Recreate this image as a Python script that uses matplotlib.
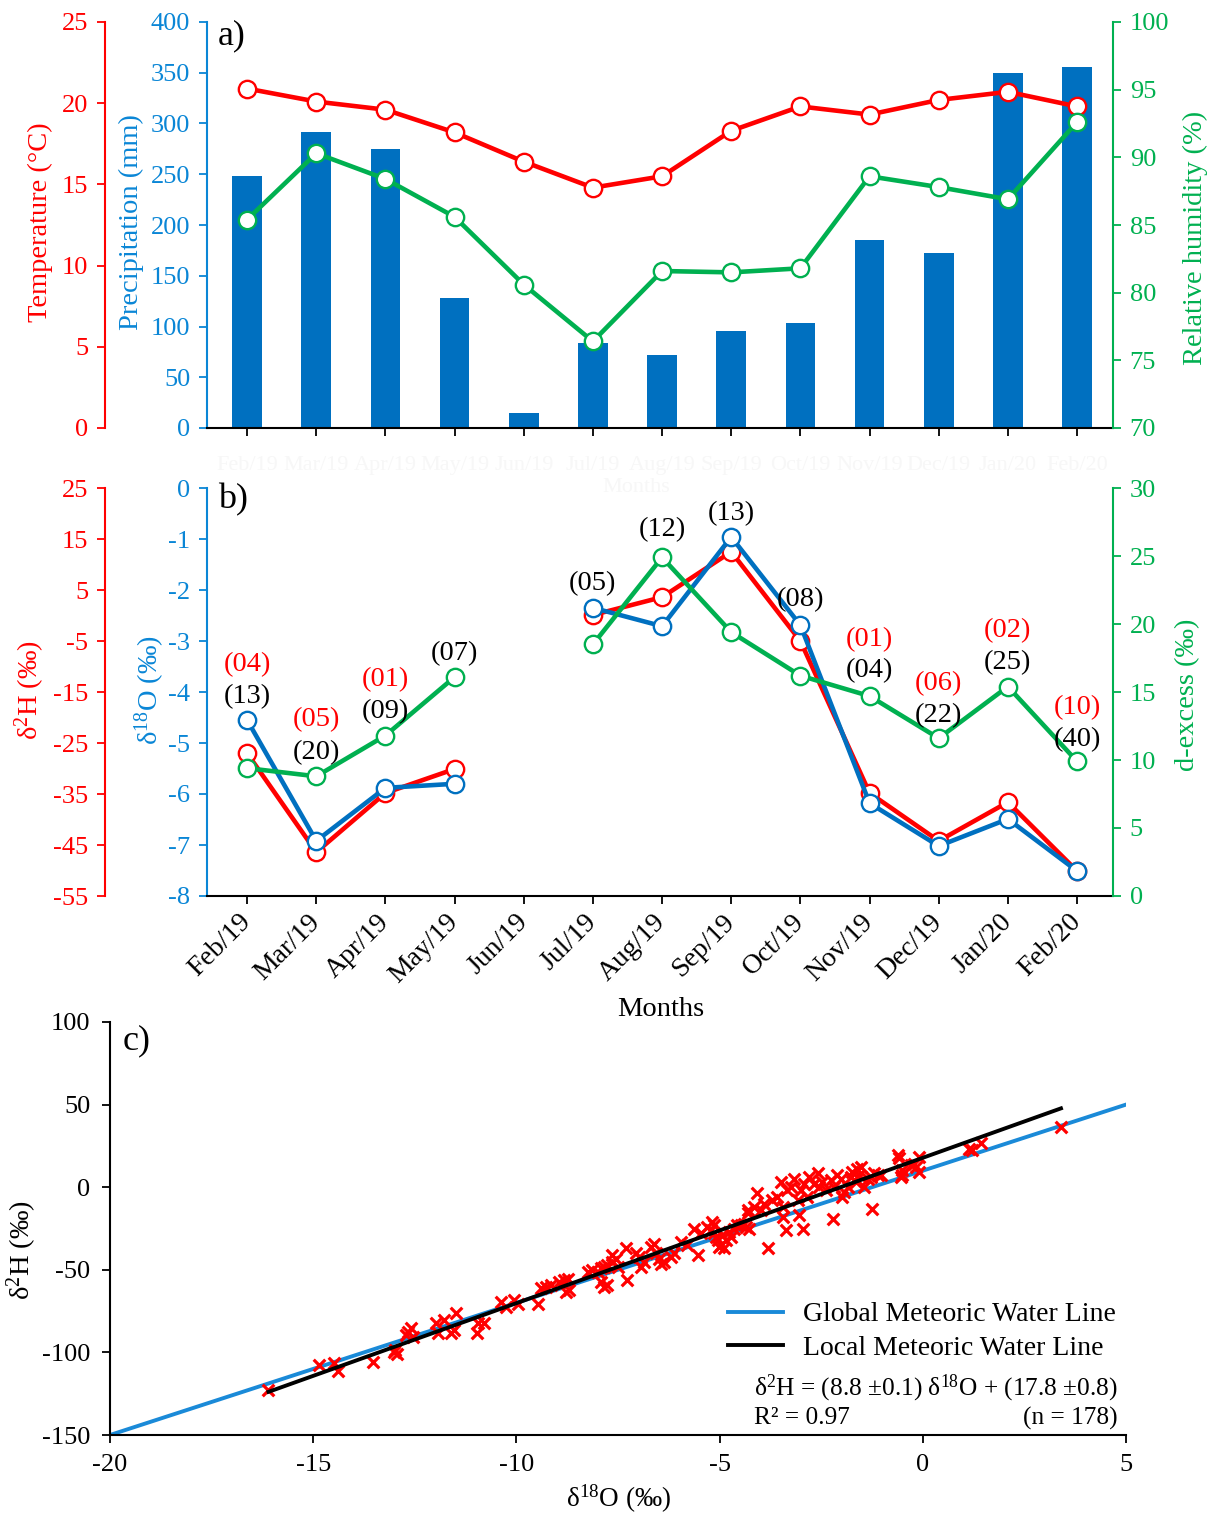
import matplotlib
matplotlib.use('Agg')
import matplotlib.pyplot as plt
import numpy as np

plt.rcParams['font.family'] = ['Liberation Serif', 'DejaVu Serif']
plt.rcParams['mathtext.fontset'] = 'custom'
plt.rcParams['mathtext.rm'] = 'Liberation Serif'
plt.rcParams['mathtext.it'] = 'Liberation Serif:italic'
plt.rcParams['axes.unicode_minus'] = False

# ---------------- data ----------------
months = ['Feb/19', 'Mar/19', 'Apr/19', 'May/19', 'Jun/19', 'Jul/19', 'Aug/19',
          'Sep/19', 'Oct/19', 'Nov/19', 'Dec/19', 'Jan/20', 'Feb/20']
temperature = [20.9, 20.1, 19.6, 18.2, 16.4, 14.8, 15.5, 18.3, 19.8, 19.3, 20.2, 20.7, 19.8]
precipitation = [248, 292, 275, 128, 15, 84, 72, 96, 103, 185, 172, 350, 356]
humidity = [85.4, 90.3, 88.4, 85.6, 80.6, 76.4, 81.6, 81.5, 81.8, 88.6, 87.8, 86.9, 92.6]

nan = np.nan
d18O = [-4.55, -6.92, -5.88, -5.80, nan, -2.35, -2.71, -0.96, -2.69, -6.18, -7.02, -6.49, -7.51]
d2H = [-27.0, -46.4, -34.8, -30.1, nan, 0.1, 3.6, 12.5, -5.0, -34.8, -44.2, -36.6, -50.1]
dexcess = [9.4, 8.8, 11.8, 16.1, nan, 18.5, 24.9, 19.4, 16.2, 14.7, 11.6, 15.4, 9.9]
n_labels_black = ['(13)', '(20)', '(09)', '(07)', '', '(05)', '(12)', '(13)', '(08)', '(04)', '(22)', '(25)', '(40)']
n_labels_red = ['(04)', '(05)', '(01)', '', '', '', '', '', '', '(01)', '(06)', '(02)', '(10)']

scatter_o18 = [
    -16.12, -14.86, -14.49, -14.39, -13.53, -13.02, -12.94, -12.99, -12.67, -12.60, -12.72, -12.55,
    -11.98, -11.79, -11.49, -11.93, -11.61, -11.54, -10.95, -10.80, -10.97,
    -10.38, -10.26, -10.06, -9.97, -9.48, -9.40, -9.28, -9.15, -8.95, -8.83, -8.74, -8.70, -8.78,
    -8.25, -8.13, -8.00, -7.92, -7.84, -7.76, -7.64, -7.55, -7.51, -7.92, -7.84, -7.76, -7.64,
    -7.31, -7.27, -7.06, -6.98, -6.94, -6.86, -6.69, -6.61, -6.57, -6.49, -6.45, -6.37, -6.20,
    -6.12, -5.95, -5.79, -5.63, -5.54, -5.46, -5.22, -5.14, -5.09, -5.01, -4.89, -4.85, -4.77,
    -4.64, -4.56, -4.40, -4.31, -4.27,
    -5.30, -5.18, -5.14, -5.05, -4.97, -4.93, -4.72, -4.48, -4.36, -4.31, -4.15, -4.07, -3.99,
    -3.90, -3.82, -3.70, -3.58, -3.49, -3.45, -3.45, -3.37, -3.33, -3.25, -3.17, -3.08, -3.04,
    -3.00, -2.96, -2.92, -2.84, -2.80, -2.67, -2.59, -2.55, -2.47, -2.39, -2.26, -2.22, -2.18,
    -2.10, -2.02, -1.98, -1.94, -1.85, -1.77, -1.73, -1.65, -1.61, -1.57, -1.53, -1.44, -1.36,
    -1.28, -1.24, -1.20, -1.11, -1.03, -0.62, -0.58, -0.54, -0.50, -0.21, -0.09, -0.09,
    -0.50, -0.30, -0.17, 1.14, 1.22, 1.43, 3.40,
]
scatter_h2 = [
    -122.9, -107.7, -106.5, -111.4, -105.9, -99.9, -101.1, -98.7, -87.8, -85.4, -89.6, -90.8,
    -82.3, -80.5, -76.3, -88.4, -88.4, -86.6, -82.3, -82.3, -88.4,
    -69.4, -72.4, -68.4, -70.4, -70.4, -61.3, -60.3, -59.3, -57.3, -56.3, -55.3, -62.3, -63.4,
    -51.3, -50.2, -51.3, -49.2, -48.2, -47.2, -45.2, -43.2, -48.2, -57.3, -60.3, -59.3, -41.2,
    -37.1, -56.3, -40.1, -42.2, -48.2, -45.2, -36.1, -34.1, -40.1, -43.2, -46.2, -45.2, -42.2,
    -40.1, -33.1, -35.1, -25.0, -41.2, -28.0, -26.0, -23.0, -30.1, -36.1, -37.1, -32.1, -27.0,
    -25.0, -23.0, -22.0, -15.9, -25.0,
    -24.0, -21.0, -28.0, -32.1, -35.1, -29.1, -30.1, -23.0, -24.0, -13.9, -11.9, -3.8, -13.9,
    -9.9, -37.1, -7.9, -5.9, 3.2, -11.9, -18.0, -26.0, -1.8, 0.2, 5.2, -7.9, -16.9,
    -1.8, -25.0, 2.2, -5.9, 6.2, 2.2, 8.3, 0.2, 3.2, -1.8, 4.2, -19.0, 0.2,
    7.3, 5.2, -5.9, -2.8, 0.2, 6.2, 9.3, 3.2, 11.3, 7.3, 12.3, 0.2, 5.2,
    6.2, -12.9, 8.3, 7.3, 7.3, 19.4, 17.4, 6.2, 10.3, 14.3, 18.3, 9.3,
    7.3, 13.3, 12.3, 23.4, 22.4, 26.5, 36.5,
]
gmwl_slope, gmwl_int, gmwl_range = 8.0, 10.0, [-20, 5]
lmwl_slope, lmwl_int, lmwl_range = 8.8, 17.8, [-16.1, 3.4]

# ---------------- styles ----------------
RED = '#FF0000'
BLUE = '#0070C0'
BLUE_T = '#0A86D6'
GREEN = '#00B050'
FS = 19        # tick labels
FL = 20.5      # axis labels
FA = 20.5      # annotations
W, H = 1215, 1517

fig = plt.figure(figsize=(W / 100, H / 100), dpi=100)


def fx(px):
    return px / W


def fy(py):
    return 1 - py / H


x = np.arange(len(months))
line_kw = dict(lw=3.3, marker='o', ms=12.5, mfc='white', mew=1.7)
XL = (-0.58, 12.52)

# ================= panel a =================
axa = fig.add_axes([fx(207), fy(428), fx(1113 - 207), (428 - 22) / H])
axa.bar(x, precipitation, width=0.43, color=BLUE, zorder=2)
axa.set_ylim(0, 400)
axa.set_xlim(*XL)
axa.set_yticks(np.arange(0, 401, 50))
axa.set_xticks(x)
axa.set_xticklabels(months, fontsize=16)
axa.tick_params(axis='x', direction='out', length=6, width=1.3, colors='black', labelcolor='#f7f7f7', pad=14)
axa.tick_params(axis='y', direction='out', length=6, width=1.3, colors=BLUE_T, labelsize=FS, pad=6)
axa.spines['left'].set_color(BLUE_T)
axa.spines['left'].set_linewidth(1.5)
axa.spines['bottom'].set_linewidth(1.5)
for s in ['top', 'right']:
    axa.spines[s].set_visible(False)

axT = axa.twinx()
axT.yaxis.set_ticks_position('left')
axT.spines['left'].set_position(('axes', -0.1126))
axT.spines['left'].set_color(RED)
axT.spines['left'].set_linewidth(1.5)
for s in ['top', 'right', 'bottom']:
    axT.spines[s].set_visible(False)
axT.set_ylim(0, 25)
axT.set_yticks(np.arange(0, 26, 5))
axT.tick_params(axis='y', direction='out', length=6, width=1.3, colors=RED, labelsize=FS, pad=6)
axT.plot(x, temperature, color=RED, mec=RED, **line_kw)

axR = axa.twinx()
axR.set_ylim(70, 100)
axR.set_yticks(np.arange(70, 101, 5))
axR.spines['right'].set_color(GREEN)
axR.spines['right'].set_linewidth(1.5)
for s in ['top', 'left', 'bottom']:
    axR.spines[s].set_visible(False)
axR.tick_params(axis='y', direction='out', length=6, width=1.3, colors=GREEN, labelsize=FS, pad=6)
axR.plot(x, humidity, color=GREEN, mec=GREEN, **line_kw)
axR.set_xlim(*XL)

axa.text(0.012, 0.965, 'a)', transform=axa.transAxes, fontsize=26, ha='left', va='center')
fig.text(fx(636), fy(487), 'Months', color='#f7f7f7', fontsize=16, ha='center', va='center')

fig.text(fx(40), fy(222), 'Temperature (°C)', color=RED, fontsize=FL, rotation=90, ha='center', va='center')
fig.text(fx(131), fy(222), 'Precipitation (mm)', color=BLUE_T, fontsize=FL, rotation=90, ha='center', va='center')
fig.text(fx(1195), fy(238), 'Relative humidity (%)', color=GREEN, fontsize=FL, rotation=90, ha='center', va='center')

# ================= panel b =================
axb = fig.add_axes([fx(207), fy(896), fx(1113 - 207), (896 - 488) / H])
axb.set_ylim(-8, 0)
axb.set_xlim(*XL)
axb.set_yticks(np.arange(-8, 1, 1))
axb.set_xticks(x)
axb.set_xticklabels(months, rotation=45, ha='right', va='center', rotation_mode='anchor', fontsize=20)
axb.tick_params(axis='x', direction='out', length=6, width=1.3, colors='black', pad=10)
axb.tick_params(axis='y', direction='out', length=6, width=1.3, colors=BLUE_T, labelsize=FS, pad=6)
axb.spines['left'].set_color(BLUE_T)
axb.spines['left'].set_linewidth(1.5)
axb.spines['bottom'].set_linewidth(1.5)
for s in ['top', 'right']:
    axb.spines[s].set_visible(False)

axH = axb.twinx()
axH.yaxis.set_ticks_position('left')
axH.spines['left'].set_position(('axes', -0.1126))
axH.spines['left'].set_color(RED)
axH.spines['left'].set_linewidth(1.5)
for s in ['top', 'right', 'bottom']:
    axH.spines[s].set_visible(False)
axH.set_ylim(-55, 25)
axH.set_yticks(np.arange(-55, 26, 10))
axH.tick_params(axis='y', direction='out', length=6, width=1.3, colors=RED, labelsize=FS, pad=6)
axH.plot(x, d2H, color=RED, mec=RED, **line_kw)

axD = axb.twinx()
axD.set_ylim(0, 30)
axD.set_yticks(np.arange(0, 31, 5))
axD.spines['right'].set_color(GREEN)
axD.spines['right'].set_linewidth(1.5)
for s in ['top', 'left', 'bottom']:
    axD.spines[s].set_visible(False)
axD.tick_params(axis='y', direction='out', length=6, width=1.3, colors=GREEN, labelsize=FS, pad=6)
axD.plot(x, dexcess, color=GREEN, mec=GREEN, **line_kw)

axO = axb.twinx()
axO.set_ylim(-8, 0)
axO.axis('off')
axO.plot(x, d18O, color=BLUE, mec=BLUE, **line_kw)
axb.set_zorder(0)
axH.set_zorder(1)
axO.set_zorder(2)
axD.set_zorder(3)
for a in (axH, axO, axD):
    a.patch.set_visible(False)
    a.set_xlim(*XL)

# sample count labels (layout: y in δ18O units)
black_label_y = [-4.10, -5.18, -4.39, -3.24, 0, -1.88, -0.82, -0.51, -2.18, -3.59, -4.47, -3.43, -4.94]
red_label_y = [-3.47, -4.55, -3.76, 0, 0, 0, 0, 0, 0, -2.98, -3.84, -2.80, -4.31]
for i in range(len(months)):
    if n_labels_black[i]:
        axD.text(x[i], (black_label_y[i] + 8) * 30 / 8, n_labels_black[i], color='black', fontsize=FA,
                 ha='center', va='center', zorder=10)
    if n_labels_red[i]:
        axD.text(x[i], (red_label_y[i] + 8) * 30 / 8, n_labels_red[i], color=RED, fontsize=FA,
                 ha='center', va='center', zorder=10)

axb.text(0.012, 0.97, 'b)', transform=axb.transAxes, fontsize=26, ha='left', va='center')
fig.text(fx(661), fy(1010), 'Months', fontsize=FL, ha='center', va='center')
fig.text(fx(30), fy(690), 'δ$^{2}$H (‰)', color=RED, fontsize=FL, rotation=90, ha='center', va='center')
fig.text(fx(150), fy(690), 'δ$^{18}$O (‰)', color=BLUE_T, fontsize=FL, rotation=90, ha='center', va='center')
fig.text(fx(1188), fy(695), 'd-excess (‰)', color=GREEN, fontsize=FL, rotation=90, ha='center', va='center')

# ================= panel c =================
axc = fig.add_axes([fx(110), fy(1435), fx(1126 - 110), (1435 - 1022) / H])
gx = np.array(gmwl_range, dtype=float)
lx = np.array(lmwl_range, dtype=float)
axc.scatter(scatter_o18, scatter_h2, marker='x', color=RED, s=70, linewidths=2.3, zorder=2)
axc.plot(gx, gmwl_slope * gx + gmwl_int, color='#1A8AD8', lw=2.8, zorder=1.5,
         label='Global Meteoric Water Line')
axc.plot(lx, lmwl_slope * lx + lmwl_int, color='black', lw=2.8, zorder=3,
         label='Local Meteoric Water Line')
axc.set_xlim(-20, 5)
axc.set_ylim(-150, 100)
axc.set_xticks(np.arange(-20, 6, 5))
axc.set_yticks(np.arange(-150, 101, 50))
axc.tick_params(direction='out', length=6, width=1.3, labelsize=FS, pad=8)
for s in ['top', 'right']:
    axc.spines[s].set_visible(False)
for s in ['left', 'bottom']:
    axc.spines[s].set_linewidth(1.5)
axc.text(0.012, 0.955, 'c)', transform=axc.transAxes, fontsize=26, ha='left', va='center')

leg = axc.legend(loc='upper left', bbox_to_anchor=(0.608, 0.322), frameon=False, fontsize=20,
                 handlelength=2.0, handletextpad=0.7, labelspacing=0.28, borderaxespad=0, borderpad=0)
axc.text(0.634, 0.114, 'δ$^{2}$H = (8.8 ±0.1) δ$^{18}$O + (17.8 ±0.8)', transform=axc.transAxes,
         fontsize=18.3, ha='left', va='center')
axc.text(0.634, 0.041, 'R² = 0.97', transform=axc.transAxes, fontsize=18.3, ha='left', va='center')
axc.text(0.9915, 0.041, '(n = 178)', transform=axc.transAxes, fontsize=18.3, ha='right', va='center')

fig.text(fx(22), fy(1250), 'δ$^{2}$H (‰)', fontsize=FL, rotation=90, ha='center', va='center')
fig.text(fx(618), fy(1499), 'δ$^{18}$O (‰)', fontsize=19.5, ha='center', va='center')

fig.savefig('out.png', dpi=100)
